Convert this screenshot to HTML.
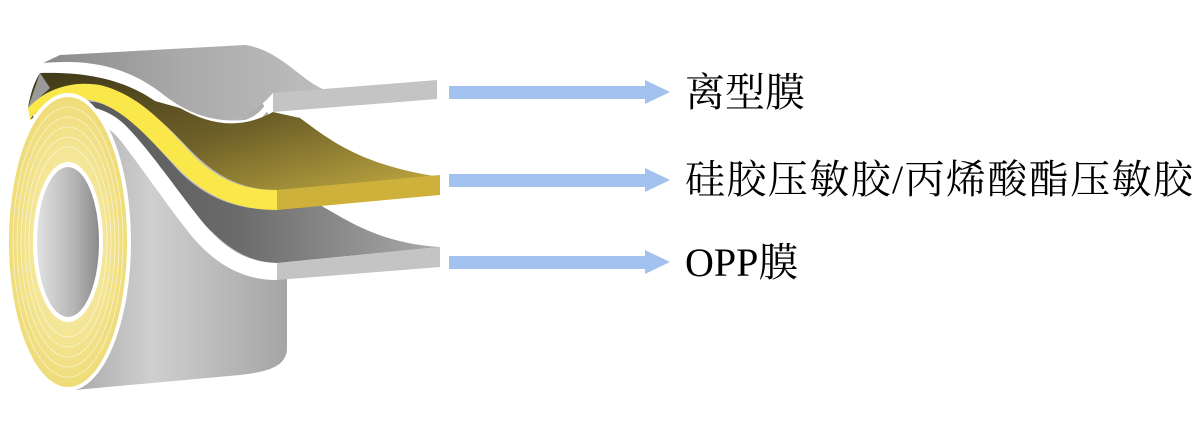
<!DOCTYPE html>
<html><head><meta charset="utf-8"><style>
html,body{margin:0;padding:0;background:#fff;width:1203px;height:429px;overflow:hidden}
.t{position:absolute;font-family:"Liberation Serif","Noto Serif CJK SC",serif;font-size:40px;color:#000;line-height:1;white-space:nowrap}
</style></head><body>
<svg width="1203" height="429" style="position:absolute;left:0;top:0">
<defs>
<linearGradient id="body" x1="0" y1="0" x2="1" y2="0">
<stop offset="0" stop-color="#9a9a9a"/><stop offset="0.45" stop-color="#cfcfcf"/><stop offset="1" stop-color="#a5a5a5"/></linearGradient>
<linearGradient id="top" x1="0" y1="0" x2="1" y2="0">
<stop offset="0" stop-color="#8a8a8a"/><stop offset="0.5" stop-color="#aaa"/><stop offset="1" stop-color="#bdbdbd"/></linearGradient>
<radialGradient id="face" cx="0.5" cy="0.5" r="0.5">
<stop offset="0.5" stop-color="#f5e99f"/><stop offset="1" stop-color="#efdc78"/></radialGradient>
<linearGradient id="hole" x1="0" y1="0" x2="1" y2="0">
<stop offset="0" stop-color="#e2e2e2"/><stop offset="0.6" stop-color="#b5b5b5"/><stop offset="1" stop-color="#8a8a8a"/></linearGradient>
<linearGradient id="ylw" x1="0" y1="0" x2="1" y2="1">
<stop offset="0" stop-color="#3f3818"/><stop offset="0.5" stop-color="#6e6028"/><stop offset="1" stop-color="#c2ac42"/></linearGradient>
<linearGradient id="dark" x1="0" y1="0" x2="1" y2="0">
<stop offset="0" stop-color="#555"/><stop offset="0.5" stop-color="#6a6a6a"/><stop offset="1" stop-color="#aaa"/></linearGradient>
</defs>
<path d="M40,100 L240,60 L287,150 L287,350 C285,368 265,372 240,375 L75,390 Z" fill="url(#body)"/>
<path d="M60,55 L245,45 C280,50 300,80 325,90 L273,93 C250,120 220,125 200,123 C180,110 160,95 100,67 C80,62 60,62 43,63 Z" fill="url(#top)"/>
<path d="M43,63 C80,60 120,62 160,92 C185,112 210,123 245,120 C262,115 268,100 273,93 L273,102 C265,117 255,126 240,128 C205,131 180,117 155,101 C120,77 80,72 40,73 Z" fill="#fff"/>
<path d="M40,73 C80,72 120,77 155,101 L180,108 C210,125 240,130 273,112 L300,118 C330,140 360,165 440,177 L277,190 C240,190 215,175 190,150 C160,118 130,90 90,85 C60,82 40,95 28,108 C30,95 34,82 40,73 Z" fill="url(#ylw)"/>
<path d="M40,73 L28,108 L50,88 Z" fill="#9a9a9a"/>
<path d="M28,108 C45,90 70,80 100,85 C140,95 165,125 190,152 C215,178 240,190 277,190 L277,210 C235,210 205,195 180,170 C150,140 120,105 90,100 C60,97 40,110 30,120 Z" fill="#fae84a"/>
<path d="M30,120 C50,105 70,100 95,102 C125,108 155,145 180,172 C205,197 235,210 277,210 L320,205 C350,222 380,243 440,247 L277,263 C245,262 225,245 205,225 C180,195 150,150 125,125 C100,102 60,100 33,115 Z" fill="url(#dark)"/>
<path d="M33,115 C70,98 105,105 125,125 C150,150 180,195 205,225 C225,248 245,262 277,263 L277,280 C240,280 215,262 195,240 C170,210 140,165 120,140 C100,115 70,112 35,125 Z" fill="#fff"/>
<path d="M273,93 L437,80 L437,99 L273,112 Z" fill="#c4c4c4"/>
<path d="M277,190 L440,175 L440,195 L277,210 Z" fill="#cdb13a"/>
<path d="M277,263 L440,247 L440,267 L277,280 Z" fill="#c4c4c4"/>
<ellipse cx="68" cy="242" rx="63" ry="149" fill="#fff"/>
<ellipse cx="68" cy="242" rx="59" ry="145" fill="url(#face)"/>
<g fill="none" stroke="#fff" stroke-width="0.8" opacity="0.6">
<ellipse cx="68" cy="242" rx="55" ry="135"/><ellipse cx="68" cy="242" rx="51" ry="125"/><ellipse cx="68" cy="242" rx="47" ry="115"/><ellipse cx="68" cy="242" rx="43" ry="105"/><ellipse cx="68" cy="242" rx="39" ry="95"/>
</g>
<ellipse cx="68" cy="242" rx="35" ry="80" fill="#fff"/>
<ellipse cx="68" cy="242" rx="31" ry="75" fill="url(#hole)"/>
<g fill="#a3c1ee">
<rect x="449" y="86" width="198" height="13"/><polygon points="645,80 670,92 645,104"/>
<rect x="449" y="174" width="198" height="13"/><polygon points="645,168 670,180 645,192"/>
<rect x="449" y="256" width="198" height="13"/><polygon points="645,250 670,262 645,274"/>
</g>
</svg>
<div class="t" style="left:685px;top:73px">离型膜</div>
<div class="t" style="left:685px;top:160px;letter-spacing:1.4px">硅胶压敏胶/丙烯酸酯压敏胶</div>
<div class="t" style="left:685px;top:243px">OPP膜</div>
</body></html>
